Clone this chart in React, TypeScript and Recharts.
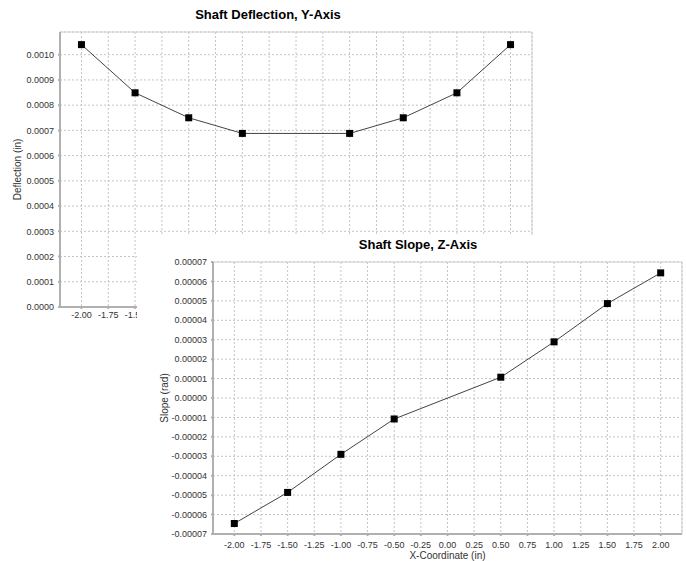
import React from "react";
import { LineChart, Line, XAxis, YAxis, CartesianGrid, ReferenceArea } from "recharts";

// x positions along the shaft (in)
const xCoords = [-2.0, -1.5, -1.0, -0.5, 0.5, 1.0, 1.5, 2.0];
const deflection = [0.00104, 0.000849, 0.00075, 0.000688, 0.000688, 0.00075, 0.000849, 0.00104];
const slope = [-0.0000646, -0.0000486, -0.000029, -0.0000108, 0.0000107, 0.0000289, 0.0000486, 0.0000644];

const xTicks = [-2.0, -1.75, -1.5, -1.25, -1.0, -0.75, -0.5, -0.25, 0.0, 0.25, 0.5, 0.75, 1.0, 1.25, 1.5, 1.75, 2.0];
const deflTicks = [0, 0.0001, 0.0002, 0.0003, 0.0004, 0.0005, 0.0006, 0.0007, 0.0008, 0.0009, 0.001];
const slopeTicks = [-0.00007, -0.00006, -0.00005, -0.00004, -0.00003, -0.00002, -0.00001, 0, 0.00001, 0.00002, 0.00003, 0.00004, 0.00005, 0.00006, 0.00007];

const deflData = xCoords.map((x, i) => ({ x, y: deflection[i] }));
const slopeData = xCoords.map((x, i) => ({ x, y: slope[i] }));

const FONT = "'Liberation Sans', Arial, sans-serif";
const tickStyle = { fontSize: 9, fill: "#333" };
const axisColor = "#b0b0b0";
const gridColor = "#c4c4c4";

const SquareDot = (props: any) => {
    const { cx, cy, index } = props;
    if (cx == null || cy == null) return null;
    return <rect key={`sq-${index}`} x={cx - 3.5} y={cy - 3.5} width={7} height={7} fill="#000" />;
};

// back chart's x labels: the ones under the front panel are hidden anyway
const BackXTick = (props: any) => {
    const { x, y, payload } = props;
    if (payload.value > -1.4) return <g />;
    return (
        <text x={x} y={y} dy="0.71em" textAnchor="middle" fontSize={9} fill="#333">
            {Number(payload.value).toFixed(2)}
        </text>
    );
};

const titleStyle: React.CSSProperties = {
    position: "absolute",
    width: 220,
    textAlign: "center",
    fontSize: 13,
    fontWeight: "bold",
    lineHeight: "15px",
    color: "#000",
};

export default function App() {
    return (
        <div style={{ position: "absolute", left: 0, top: 0, width: 686, height: 561, overflow: "hidden", background: "#fff", fontFamily: FONT }}>
            {/* back chart: deflection */}
            <div style={{ position: "absolute", left: 0, top: 0 }}>
                <LineChart width={545} height={330} data={deflData} margin={{ top: 32, right: 13, bottom: 0, left: 0 }}>
                    <CartesianGrid stroke={gridColor} strokeDasharray="2 2" />
                    <ReferenceArea x1={-2.2} x2={2.2} y1={0} y2={0.00109} fill="none" stroke="#d0d0d0" />
                    <XAxis
                        type="number"
                        dataKey="x"
                        domain={[-2.2, 2.2]}
                        ticks={xTicks}
                        interval={0}
                        height={23}
                        stroke={axisColor}
                        strokeWidth={2}
                        tickSize={2}
                        tickMargin={3}
                        tick={BackXTick}
                        allowDataOverflow
                    />
                    <YAxis
                        type="number"
                        domain={[0, 0.00109]}
                        ticks={deflTicks}
                        interval={0}
                        tickFormatter={(v: number) => v.toFixed(4)}
                        width={60}
                        stroke={axisColor}
                        strokeWidth={2}
                        tickSize={2}
                        tickMargin={4}
                        tick={tickStyle}
                        allowDataOverflow
                        label={{ value: "Deflection (in)", angle: -90, position: "insideLeft", offset: 17, style: { textAnchor: "middle", fontSize: 10, fill: "#333" } }}
                    />
                    <Line dataKey="y" stroke="#444" strokeWidth={1} dot={SquareDot} activeDot={false} isAnimationActive={false} />
                </LineChart>
                <div style={{ ...titleStyle, left: 158, top: 7 }}>Shaft Deflection, Y-Axis</div>
            </div>

            {/* front chart: slope */}
            <div style={{ position: "absolute", left: 137, top: 235, width: 549, height: 326, overflow: "hidden", background: "#fff" }}>
                <LineChart width={549} height={345} data={slopeData} margin={{ top: 27, right: 4, bottom: 0, left: 0 }}>
                    <CartesianGrid stroke={gridColor} strokeDasharray="2 2" />
                    <ReferenceArea x1={-2.2} x2={2.2} y1={-0.00007} y2={0.00007} fill="none" stroke="#d0d0d0" />
                    <XAxis
                        type="number"
                        dataKey="x"
                        domain={[-2.2, 2.2]}
                        ticks={xTicks}
                        interval={0}
                        tickFormatter={(v: number) => v.toFixed(2)}
                        height={46}
                        stroke={axisColor}
                        strokeWidth={2}
                        tickSize={2}
                        tickMargin={6}
                        tick={tickStyle}
                        allowDataOverflow
                        label={{ value: "X-Coordinate (in)", position: "insideBottom", offset: 21, style: { fontSize: 10, fill: "#333" } }}
                    />
                    <YAxis
                        type="number"
                        domain={[-0.00007, 0.00007]}
                        ticks={slopeTicks}
                        interval={0}
                        tickFormatter={(v: number) => v.toFixed(5)}
                        width={76}
                        stroke={axisColor}
                        strokeWidth={2}
                        tickSize={2}
                        tickMargin={4}
                        tick={tickStyle}
                        allowDataOverflow
                        label={{ value: "Slope (rad)", angle: -90, position: "insideLeft", offset: 27, style: { textAnchor: "middle", fontSize: 10, fill: "#333" } }}
                    />
                    <Line dataKey="y" stroke="#444" strokeWidth={1} dot={SquareDot} activeDot={false} isAnimationActive={false} />
                </LineChart>
                <div style={{ ...titleStyle, left: 171, top: 2 }}>Shaft Slope, Z-Axis</div>
            </div>
        </div>
    );
}
